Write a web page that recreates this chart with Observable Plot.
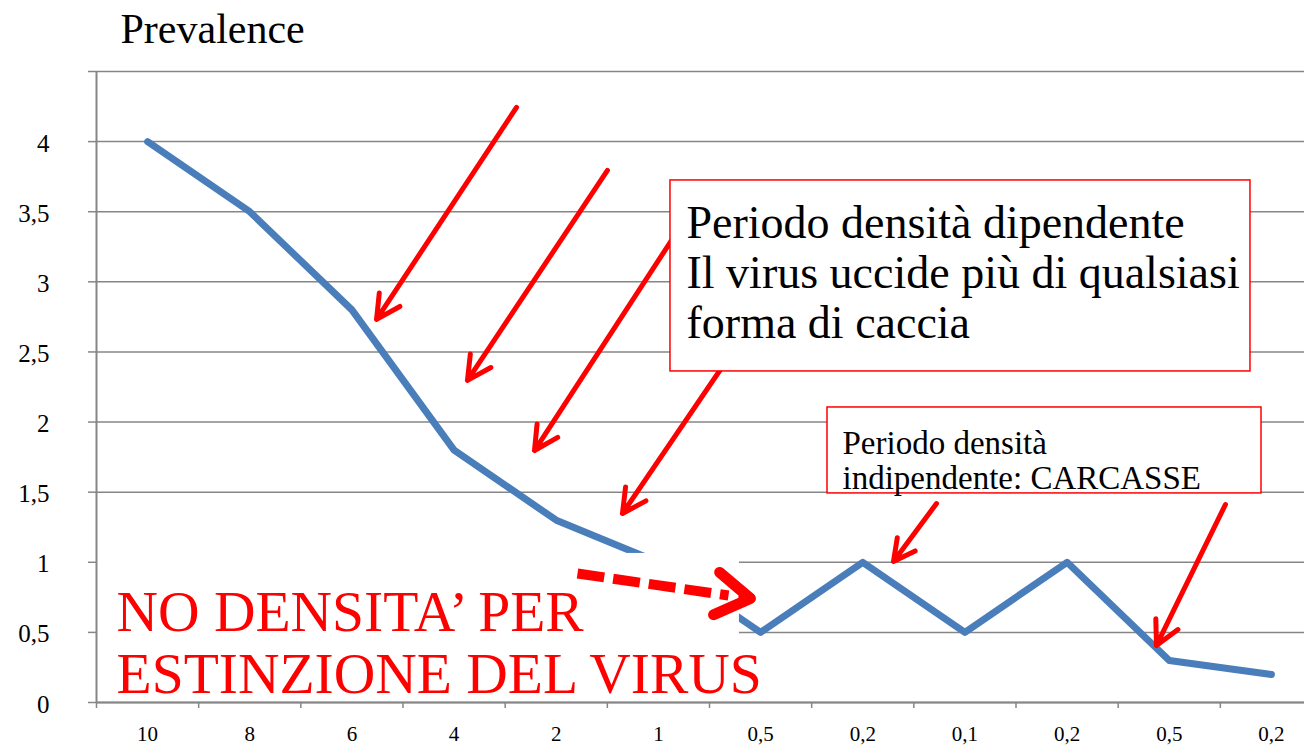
<!DOCTYPE html>
<html>
<head>
<meta charset="utf-8">
<script src="https://cdn.jsdelivr.net/npm/d3@7"></script>
<script src="https://cdn.jsdelivr.net/npm/@observablehq/plot@0.6"></script>
<style>
  html, body { margin: 0; padding: 0; background: #ffffff; }
</style>
</head>
<body>
<div id="chart"></div>
<script>
// ---- data ----
const categories = ["10", "8", "6", "4", "2", "1", "0,5", "0,2", "0,1", "0,2", "0,5", "0,2"];
const prevalence = [4, 3.5, 2.8, 1.8, 1.3, 1.0, 0.5, 1.0, 0.5, 1.0, 0.3, 0.2];
const yTicks = [0, 0.5, 1, 1.5, 2, 2.5, 3, 3.5, 4, 4.5];
const yLabelled = [0, 0.5, 1, 1.5, 2, 2.5, 3, 3.5, 4];
const titleText = "Prevalence";
const noteBig = ["Periodo densità dipendente", "Il virus uccide più di qualsiasi", "forma di caccia"];
const noteSmall = ["Periodo densità", "indipendente: CARCASSE"];
const noteRed = ["NO DENSITA’ PER", "ESTINZIONE DEL VIRUS"];

// ---- annotation geometry, in data coordinates (x = category index, y = prevalence) ----
const solidArrows = [
  {x1: 3.611, y1: 4.244, x2: 2.241, y2: 2.732},
  {x1: 4.501, y1: 3.795, x2: 3.131, y2: 2.297},
  {x1: 5.412, y1: 3.613, x2: 3.787, y2: 1.797},
  {x1: 5.999, y1: 2.794, x2: 4.648, y2: 1.348},
  {x1: 7.722, y1: 1.419, x2: 7.301, y2: 1.006},
  {x1: 10.550, y1: 1.412, x2: 9.875, y2: 0.407}
];
const dashedArrow = {x1: 4.208, y1: 0.920, x2: 5.901, y2: 0.742, xs: 5.686, ys: 0.763};
const boxBig = {x1: 5.118, x2: 10.795, y1: 3.723, y2: 2.361, tx: 5.275, ty: 2.596};
const boxSmall = {x1: 6.655, x2: 10.903, y1: 2.104, y2: 1.491, tx: 6.802, ty: 1.526};
const coverBox = {x1: -0.490, x2: 5.793, y1: 1.063, y2: 0.007, tx: -0.304, ty: 0.071};

const grey = "#868686";
const blue = "#4a7ebb";
const red = "#ff0000";
const serif = "Liberation Serif";
const fmt = d => String(d).replace(".", ",");
const idx = d3.range(categories.length);
const bounds = d3.range(categories.length + 1).map(i => i - 0.5);

const chart = Plot.plot({
  width: 1304,
  height: 746,
  marginTop: 71,
  marginBottom: 44,
  marginLeft: 96,
  marginRight: 0,
  style: {fontFamily: serif, background: "#ffffff", color: "black"},
  x: {type: "linear", domain: [-0.5, 11.5], range: [96, 1322]},
  y: {type: "linear", domain: [0, 4.5]},
  marks: [
    Plot.gridY(yTicks, {stroke: grey, strokeOpacity: 1, strokeWidth: 1.5}),
    Plot.line(prevalence, {x: (d, i) => i, y: d => d, stroke: blue, strokeWidth: 7, strokeLinecap: "round", strokeLinejoin: "round"}),
    Plot.arrow(solidArrows, {x1: "x1", y1: "y1", x2: "x2", y2: "y2", stroke: red, strokeWidth: 5, headAngle: 55, headLength: 8}),
    Plot.rect([boxBig], {x1: "x1", x2: "x2", y1: "y1", y2: "y2", fill: "white", stroke: red, strokeWidth: 1.5}),
    Plot.text([noteBig.join("\n")], {x: boxBig.tx, y: boxBig.ty, textAnchor: "start", lineAnchor: "bottom", lineHeight: 1.087, fontSize: 46, fontFamily: serif, fill: "black"}),
    Plot.rect([boxSmall], {x1: "x1", x2: "x2", y1: "y1", y2: "y2", fill: "white", stroke: red, strokeWidth: 1.5}),
    Plot.text([noteSmall.join("\n")], {x: boxSmall.tx, y: boxSmall.ty, textAnchor: "start", lineAnchor: "bottom", lineHeight: 1.06, fontSize: 33, fontFamily: serif, fill: "black"}),
    Plot.rect([coverBox], {x1: "x1", x2: "x2", y1: "y1", y2: "y2", fill: "white"}),
    Plot.ruleX([-0.5], {stroke: grey, strokeWidth: 2}),
    Plot.ruleY([0], {stroke: grey, strokeWidth: 2}),
    Plot.axisY(yTicks, {tickSize: 8, tickFormat: () => "", stroke: grey, strokeWidth: 1.5}),
    Plot.axisY(yLabelled, {tickSize: 0, tickPadding: 47, tickFormat: fmt, fontSize: 25, fontFamily: serif, fill: "black", dy: 2}),
    Plot.axisX(bounds, {tickSize: 6, tickFormat: () => "", stroke: grey, strokeWidth: 1.5}),
    Plot.axisX(idx, {tickSize: 0, tickPadding: 24, tickFormat: i => categories[i], fontSize: 21, fontFamily: serif, fill: "black"}),
    Plot.text([noteRed.join("\n")], {x: coverBox.tx, y: coverBox.ty, textAnchor: "start", lineAnchor: "bottom", lineHeight: 1.078, fontSize: 57.5, fontFamily: serif, fill: red}),
    Plot.link([dashedArrow], {x1: "x1", y1: "y1", x2: "xs", y2: "ys", stroke: red, strokeWidth: 10, strokeDasharray: "27,9", strokeLinecap: "butt"}),
    Plot.arrow([dashedArrow], {x1: "x1", y1: "y1", x2: "x2", y2: "y2", stroke: red, strokeWidth: 11, headAngle: 64, headLength: 5.5, insetStart: 168}),
    Plot.text([titleText], {frameAnchor: "top-left", dx: 24, dy: -29, textAnchor: "start", lineAnchor: "bottom", fontSize: 42, fontFamily: serif, fill: "black"})
  ]
});
document.getElementById("chart").appendChild(chart);
</script>
</body>
</html>
